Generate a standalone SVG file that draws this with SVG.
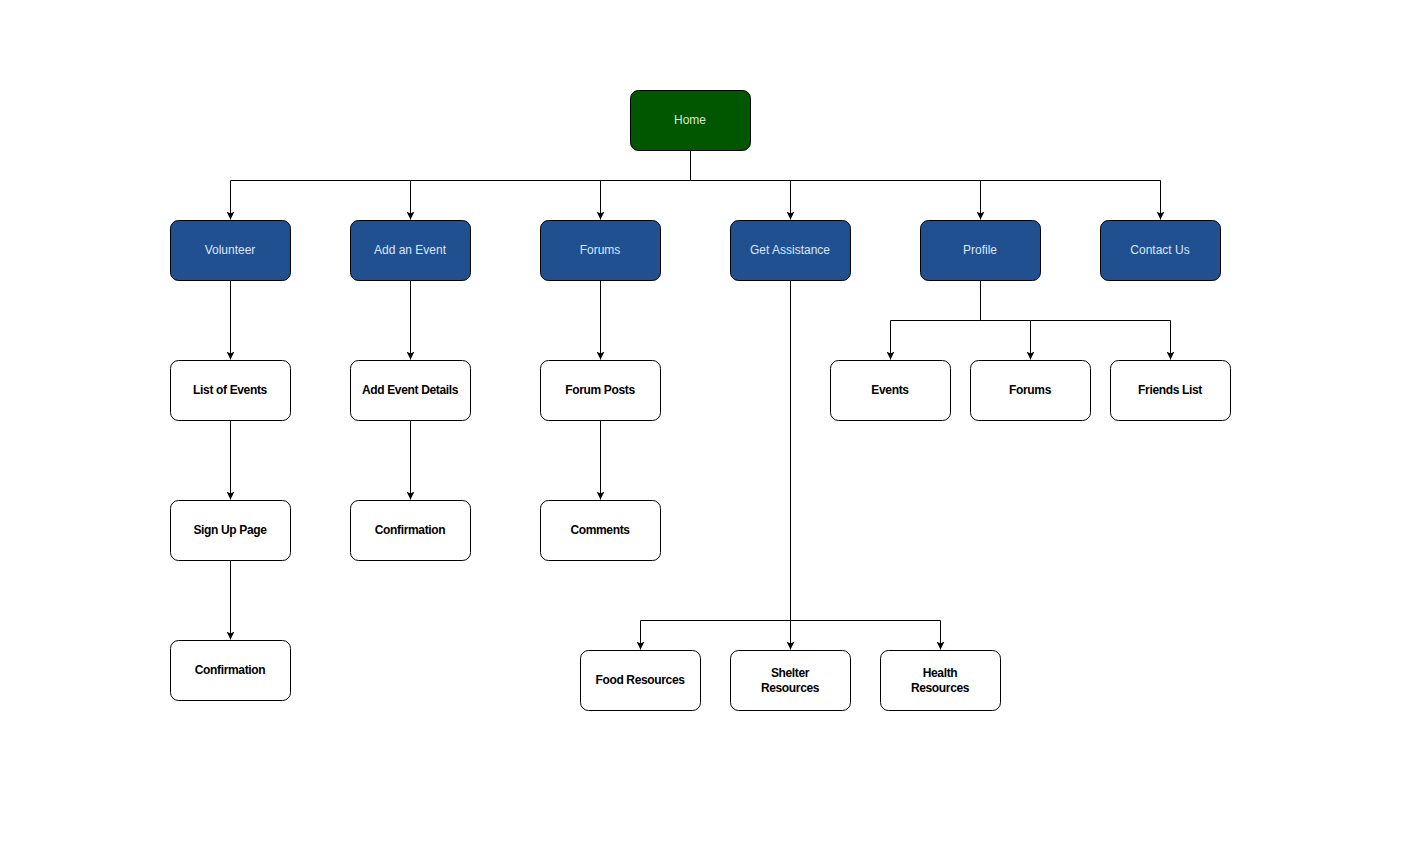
<svg xmlns="http://www.w3.org/2000/svg" width="1401" height="851" viewBox="0 0 1401 851">
<defs>
<marker id="arr" viewBox="0 0 10 10" refX="10" refY="5" markerWidth="8" markerHeight="8" markerUnits="userSpaceOnUse" orient="auto">
<path d="M0,0 L10,5 L0,10 L2.5,5 Z" fill="#000"/>
</marker>
<style>
.n rect{stroke:#000;stroke-width:1}
.w rect{fill:#fff}
.b rect{fill:#20508f}
.g rect{fill:#005700}
text{font-family:"Liberation Sans",Arial,sans-serif;font-size:12px;text-anchor:middle;dominant-baseline:central}
.w text{font-weight:bold;fill:#000;letter-spacing:-0.35px}
.b text{fill:#dae8fc}
.g text{fill:#d5e8d4}
.c path{fill:none;stroke:#000;stroke-width:1}
</style>
</defs>
<rect width="1401" height="851" fill="#fff"/>
<g class="c" id="connectors">
<path d="M690.5,150.5 V180.5 H230.5 V219.5" marker-end="url(#arr)"/>
<path d="M690.5,180.5 H410.5 V219.5" marker-end="url(#arr)"/>
<path d="M690.5,180.5 H600.5 V219.5" marker-end="url(#arr)"/>
<path d="M690.5,180.5 H790.5 V219.5" marker-end="url(#arr)"/>
<path d="M690.5,180.5 H980.5 V219.5" marker-end="url(#arr)"/>
<path d="M690.5,180.5 H1160.5 V219.5" marker-end="url(#arr)"/>
<path d="M230.5,280.5 V359.5" marker-end="url(#arr)"/>
<path d="M230.5,420.5 V499.5" marker-end="url(#arr)"/>
<path d="M230.5,560.5 V639.5" marker-end="url(#arr)"/>
<path d="M410.5,280.5 V359.5" marker-end="url(#arr)"/>
<path d="M410.5,420.5 V499.5" marker-end="url(#arr)"/>
<path d="M600.5,280.5 V359.5" marker-end="url(#arr)"/>
<path d="M600.5,420.5 V499.5" marker-end="url(#arr)"/>
<path d="M790.5,280.5 V649.5" marker-end="url(#arr)"/>
<path d="M790.5,620.5 H640.5 V649.5" marker-end="url(#arr)"/>
<path d="M790.5,620.5 H940.5 V649.5" marker-end="url(#arr)"/>
<path d="M980.5,280.5 V320.5 H890.5 V359.5" marker-end="url(#arr)"/>
<path d="M980.5,320.5 H1030.5 V359.5" marker-end="url(#arr)"/>
<path d="M980.5,320.5 H1170.5 V359.5" marker-end="url(#arr)"/>
</g>
<g id="home" class="n g"><rect x="630.5" y="90.5" width="120" height="60" rx="8"/><text x="690" y="120">Home</text></g>
<g id="volunteer" class="n b"><rect x="170.5" y="220.5" width="120" height="60" rx="8"/><text x="230" y="250">Volunteer</text></g>
<g id="add-event" class="n b"><rect x="350.5" y="220.5" width="120" height="60" rx="8"/><text x="410" y="250">Add an Event</text></g>
<g id="forums" class="n b"><rect x="540.5" y="220.5" width="120" height="60" rx="8"/><text x="600" y="250">Forums</text></g>
<g id="get-assistance" class="n b"><rect x="730.5" y="220.5" width="120" height="60" rx="8"/><text x="790" y="250">Get Assistance</text></g>
<g id="profile" class="n b"><rect x="920.5" y="220.5" width="120" height="60" rx="8"/><text x="980" y="250">Profile</text></g>
<g id="contact" class="n b"><rect x="1100.5" y="220.5" width="120" height="60" rx="8"/><text x="1160" y="250">Contact Us</text></g>
<g id="list-events" class="n w"><rect x="170.5" y="360.5" width="120" height="60" rx="8"/><text x="230" y="390">List of Events</text></g>
<g id="signup" class="n w"><rect x="170.5" y="500.5" width="120" height="60" rx="8"/><text x="230" y="530">Sign Up Page</text></g>
<g id="confirm1" class="n w"><rect x="170.5" y="640.5" width="120" height="60" rx="8"/><text x="230" y="670">Confirmation</text></g>
<g id="add-details" class="n w"><rect x="350.5" y="360.5" width="120" height="60" rx="8"/><text x="410" y="390">Add Event Details</text></g>
<g id="confirm2" class="n w"><rect x="350.5" y="500.5" width="120" height="60" rx="8"/><text x="410" y="530">Confirmation</text></g>
<g id="forum-posts" class="n w"><rect x="540.5" y="360.5" width="120" height="60" rx="8"/><text x="600" y="390">Forum Posts</text></g>
<g id="comments" class="n w"><rect x="540.5" y="500.5" width="120" height="60" rx="8"/><text x="600" y="530">Comments</text></g>
<g id="food" class="n w"><rect x="580.5" y="650.5" width="120" height="60" rx="8"/><text x="640" y="680">Food Resources</text></g>
<g id="shelter" class="n w"><rect x="730.5" y="650.5" width="120" height="60" rx="8"/><text x="790" y="673">Shelter</text><text x="790" y="688">Resources</text></g>
<g id="health" class="n w"><rect x="880.5" y="650.5" width="120" height="60" rx="8"/><text x="940" y="673">Health</text><text x="940" y="688">Resources</text></g>
<g id="p-events" class="n w"><rect x="830.5" y="360.5" width="120" height="60" rx="8"/><text x="890" y="390">Events</text></g>
<g id="p-forums" class="n w"><rect x="970.5" y="360.5" width="120" height="60" rx="8"/><text x="1030" y="390">Forums</text></g>
<g id="friends" class="n w"><rect x="1110.5" y="360.5" width="120" height="60" rx="8"/><text x="1170" y="390">Friends List</text></g>
</svg>
